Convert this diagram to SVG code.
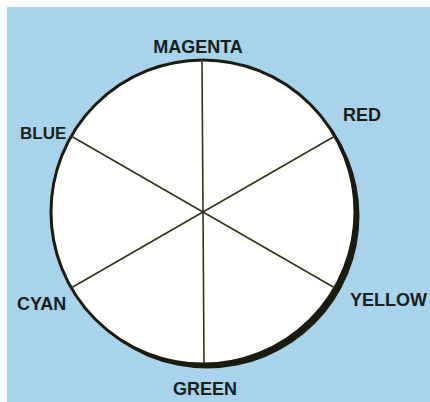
<svg xmlns="http://www.w3.org/2000/svg" width="430" height="402" viewBox="0 0 430 402">
<style>
.lbl{font-family:"Liberation Sans",Arial,sans-serif;font-weight:bold;font-size:18px;fill:#17201b}
.spoke{stroke:#34321f;stroke-width:1.6;fill:none}
</style>
<rect x="0" y="0" width="430" height="402" fill="#fbfcfc"/>
<rect x="7" y="7" width="423" height="395" fill="#a9d3ea"/>
<g id="wheel">
<circle cx="207" cy="216" r="152.5" fill="#1c1b10"/>
<circle cx="203" cy="212" r="152" fill="#ffffff" stroke="#1c1b10" stroke-width="3"/>
</g>
<g id="connectors">
<line class="spoke" x1="202" y1="60" x2="204" y2="364"/>
<line class="spoke" x1="71" y1="136" x2="335" y2="288"/>
<line class="spoke" x1="335" y1="136" x2="71" y2="288"/>
</g>
<g id="magenta"><text class="lbl" x="198" y="53" text-anchor="middle">MAGENTA</text></g>
<g id="red"><text class="lbl" x="343" y="121">RED</text></g>
<g id="blue"><text class="lbl" x="20" y="139" style="font-size:17px">BLUE</text></g>
<g id="cyan"><text class="lbl" x="17" y="310">CYAN</text></g>
<g id="yellow"><text class="lbl" x="350" y="306">YELLOW</text></g>
<g id="green"><text class="lbl" x="205" y="395" text-anchor="middle">GREEN</text></g>
</svg>
